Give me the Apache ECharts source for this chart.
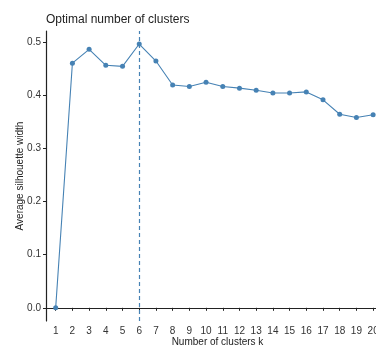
<!DOCTYPE html>
<html>
<head>
<meta charset="utf-8">
<script src="https://cdn.jsdelivr.net/npm/echarts@6/dist/echarts.min.js"></script>
<style>
  html, body { margin: 0; padding: 0; background: #fff; }
  #chart { width: 376px; height: 347px; }
</style>
</head>
<body>
<div id="chart"></div>
<script>
// clusters k and average silhouette width
const ks = [1, 2, 3, 4, 5, 6, 7, 8, 9, 10, 11, 12, 13, 14, 15, 16, 17, 18, 19, 20];
const silhouette = [0, 0.460, 0.486, 0.456, 0.454, 0.496, 0.464, 0.419, 0.416, 0.424,
  0.416, 0.413, 0.409, 0.404, 0.404, 0.406, 0.391, 0.364, 0.358, 0.363];
const yTicks = [0, 0.1, 0.2, 0.3, 0.4, 0.5];
const bestK = 6;

const font = 'Liberation Sans, Arial, sans-serif';
const blue = '#4682B4';

const chart = echarts.init(document.getElementById('chart'));
chart.setOption({
  animation: false,
  title: {
    text: 'Optimal number of clusters',
    left: 41,
    top: 9,
    textStyle: { fontFamily: font, fontSize: 12, fontWeight: 'normal', color: '#222' }
  },
  grid: {
    left: 46,
    top: 31,
    bottom: 26,
    right: -13,
    outerBoundsMode: 'none'
  },
  xAxis: {
    type: 'value',
    min: 0.42,
    max: 20.95,
    name: 'Number of clusters k',
    nameLocation: 'middle',
    nameGap: 16,
    nameMoveOverlap: false,
    nameTextStyle: { fontFamily: font, fontSize: 10, color: '#222' },
    axisLine: { lineStyle: { color: '#222', width: 1.2 } },
    axisTick: { customValues: ks, length: 3, lineStyle: { color: '#222' } },
    axisLabel: { customValues: ks, fontFamily: font, fontSize: 10, color: '#333', margin: 5 },
    splitLine: { show: false }
  },
  yAxis: {
    type: 'value',
    min: -0.0248,
    max: 0.5205,
    name: 'Average silhouette width',
    nameLocation: 'middle',
    nameGap: 21,
    nameMoveOverlap: false,
    nameTextStyle: { fontFamily: font, fontSize: 10, color: '#222' },
    axisLine: { show: true, lineStyle: { color: '#222', width: 1.2 } },
    axisTick: { show: true, customValues: yTicks, length: 3, lineStyle: { color: '#222' } },
    axisLabel: {
      customValues: yTicks,
      fontFamily: font, fontSize: 10, color: '#333', margin: 5,
      formatter: v => v.toFixed(1)
    },
    splitLine: { show: false }
  },
  series: [{
    type: 'line',
    data: ks.map((k, i) => [k, silhouette[i]]),
    symbol: 'circle',
    symbolSize: 5,
    itemStyle: { color: blue },
    lineStyle: { color: blue, width: 1.1 },
    markLine: {
      silent: true,
      symbol: 'none',
      label: { show: false },
      lineStyle: { color: blue, type: [4, 3], width: 1.2, opacity: 1 },
      data: [{ xAxis: bestK, lineStyle: { color: blue } }]
    }
  }]
});
</script>
</body>
</html>
